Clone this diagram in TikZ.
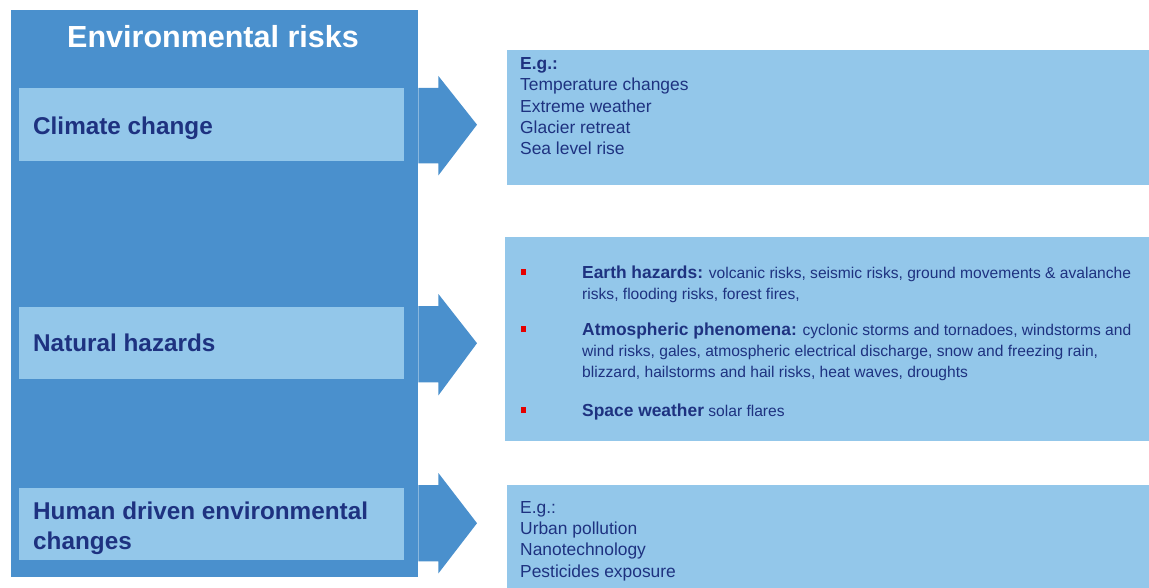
\documentclass[tikz,border=0pt]{standalone}
\usepackage{fontspec}
\setmainfont{Liberation Sans}
\usetikzlibrary{calc}
\definecolor{boxdark}{RGB}{74,144,205}
\definecolor{boxlight}{RGB}{147,199,234}
\definecolor{navy}{RGB}{30,50,128}
\definecolor{bulletred}{RGB}{230,0,0}
\begin{document}
\begin{tikzpicture}[x=1pt,y=-1pt,
  panel/.style={fill=boxdark, draw=none, inner sep=0pt, anchor=north west},
  itembox/.style={fill=boxlight, draw=none, inner sep=0pt, anchor=north west, minimum width=385pt},
  infobox/.style={fill=boxlight, draw=none, inner sep=0pt, anchor=north west},
  titletext/.style={text=white, inner sep=0pt, anchor=base, font=\bfseries\fontsize{30.5}{36}\selectfont},
  itemtext/.style={text=navy, inner sep=0pt, font=\bfseries\fontsize{24.3}{30}\selectfont, align=left},
  listtext/.style={text=navy, inner sep=0pt, anchor=north west, align=left, font=\fontsize{17.4}{21.2}\selectfont},
  smalltext/.style={text=navy, inner sep=0pt, anchor=north west, align=left, font=\fontsize{15.6}{21}\selectfont},
  bulletmark/.style={fill=bulletred, draw=none, inner sep=0pt, minimum size=5.5pt},
  blockarrow/.style={fill=boxdark, draw=none}
]
\useasboundingbox (0,0) rectangle (1149,588);

% main panel
\node[panel, minimum width=407pt, minimum height=567pt] (big) at (11,10) {};
\node[titletext] (title) at (213,47.8) {Environmental risks};

% left items
\node[itembox, minimum height=73pt] (cc) at (19,88) {};
\node[itembox, minimum height=72pt] (nh) at (19,307) {};
\node[itembox, minimum height=72pt] (hd) at (19,488) {};
\node[itemtext, anchor=base west] (cct) at (33,134.6) {Climate change};
\node[itemtext, anchor=base west] (nht) at (33,351.6) {Natural hazards};
\node[itemtext, anchor=north west] (hdt) at (33,501.4) {Human driven environmental\\changes};

% right boxes
\node[infobox, minimum width=642pt, minimum height=135pt] (r1) at (507,50) {};
\node[infobox, minimum width=644pt, minimum height=204pt] (r2) at (505,237) {};
\node[infobox, minimum width=642pt, minimum height=103pt] (r3) at (507,485) {};

% block arrows
\fill[blockarrow] (big.east |- cc.north) -- ($(big.east |- cc.north)+(20,0)$) -- ($(big.east |- cc.north)+(20,-12)$)
  -- ($(r1.west |- cc.center)+(-30,0)$) -- ($(big.east |- cc.south)+(20,14)$) -- ($(big.east |- cc.south)+(20,2)$)
  -- ($(big.east |- cc.south)+(0,2)$) -- cycle;
\fill[blockarrow] ($(big.east |- nh.north)+(0,-1)$) -- ($(big.east |- nh.north)+(20,-1)$) -- ($(big.east |- nh.north)+(20,-13)$)
  -- ($(r2.west |- nh.center)+(-28,0)$) -- ($(big.east |- nh.south)+(20,16)$) -- ($(big.east |- nh.south)+(20,3)$)
  -- ($(big.east |- nh.south)+(0,3)$) -- cycle;
\fill[blockarrow] ($(big.east |- hd.north)+(0,-3)$) -- ($(big.east |- hd.north)+(20,-3)$) -- ($(big.east |- hd.north)+(20,-15)$)
  -- ($(r3.west |- hd.center)+(-30,-1)$) -- ($(big.east |- hd.south)+(20,13)$) -- ($(big.east |- hd.south)+(20,1)$)
  -- ($(big.east |- hd.south)+(0,1)$) -- cycle;

% right box 1
\node[listtext] (r1t) at (520,57.6) {\textbf{E.g.:}\\Temperature changes\\Extreme weather\\Glacier retreat\\Sea level rise};

% right box 2
\node[bulletmark] (b1) at (523.5,272) {};
\node[bulletmark] (b2) at (523.5,329) {};
\node[bulletmark] (b3) at (523.5,410) {};
\node[smalltext] (e1) at (582,265.4) {{\bfseries\fontsize{17.4}{21}\selectfont Earth hazards:} volcanic risks, seismic risks, ground movements \& avalanche\\risks, flooding risks, forest fires,};
\node[smalltext] (e2) at (582,322.4) {{\bfseries\fontsize{17.4}{21}\selectfont Atmospheric phenomena:} cyclonic storms and tornadoes, windstorms and\\wind risks, gales, atmospheric electrical discharge, snow and freezing rain,\\blizzard, hailstorms and hail risks, heat waves, droughts};
\node[smalltext] (e3) at (582,403.4) {{\bfseries\fontsize{17.4}{21}\selectfont Space weather} solar flares};

% right box 3
\node[listtext] (r3t) at (520,501.3) {E.g.:\\Urban pollution\\Nanotechnology\\Pesticides exposure};
\end{tikzpicture}
\end{document}
